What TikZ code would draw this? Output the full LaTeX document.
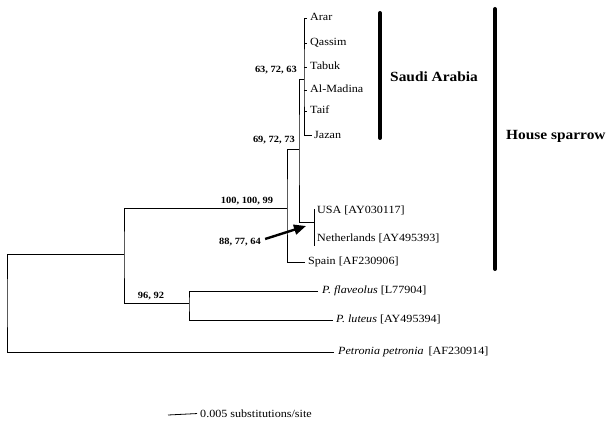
\documentclass[tikz,border=0pt]{standalone}
\usepackage{fontspec}
\setmainfont{Liberation Serif}[FakeStretch=1.1]
\usetikzlibrary{arrows.meta}
\begin{document}
\begin{tikzpicture}[x=1pt,y=-1pt,
  br/.style={line width=0.8pt},
  tip/.style={anchor=mid west, inner sep=0pt, font=\fontsize{11}{13}\selectfont},
  boot/.style={inner sep=0pt, font=\fontsize{9.5}{11}\selectfont\bfseries},
  bar/.style={line width=4pt, line cap=round},
  grp/.style={anchor=mid west, inner sep=0pt, font=\fontsize{14}{16}\selectfont\bfseries}]
\useasboundingbox (0,0) rectangle (607,422);
% internal nodes
\coordinate (R) at (7,303);
\coordinate (A) at (124,254);
\coordinate (F) at (189,303);
\coordinate (H) at (287,208);
\coordinate (S2) at (299,149);
\coordinate (S1) at (304,79);
\coordinate (U) at (314,222);
% tips
\coordinate (tArar) at (307,18);
\coordinate (tQas) at (307,43);
\coordinate (tTab) at (307,67);
\coordinate (tMad) at (307,90);
\coordinate (tTaif) at (307,111);
\coordinate (tJaz) at (312,135);
\coordinate (tUSA) at (314,209);
\coordinate (tNeth) at (314,246);
\coordinate (tSpain) at (305,262);
\coordinate (tFlav) at (318,291);
\coordinate (tLut) at (333,320);
\coordinate (tPet) at (334,352);
% labels
\node[tip] (lArar) at (310,18) {Arar};
\node[tip] (lQas) at (310,43) {Qassim};
\node[tip] (lTab) at (310,67) {Tabuk};
\node[tip] (lMad) at (310,90) {Al-Madina};
\node[tip] (lTaif) at (310,111) {Taif};
\node[tip] (lJaz) at (314,136) {Jazan};
\node[tip] (lUSA) at (317,211) {USA [AY030117]};
\node[tip] (lNeth) at (317,239) {Netherlands [AY495393]};
\node[tip] (lSpain) at (308,262) {Spain [AF230906]};
\node[tip] (lFlav) at (322,291) {\textit{P. flaveolus} [L77904]};
\node[tip] (lLut) at (336,320) {\textit{P. luteus} [AY495394]};
\node[tip] (lPet) at (338,352) {\textit{Petronia petronia}\ \,[AF230914]};
% branches
\draw[br] (tArar) -| (S1) |- (tJaz);
\foreach \t in {tQas,tTab,tMad,tTaif} \draw[br] (S1 |- \t) -- (\t);
\draw[br] (S1) -| (S2) |- (U);
\draw[br] (tUSA) -- (tNeth);
\draw[br] (S2) -| (H) |- (tSpain);
\draw[br] (H) -| (A) |- (F);
\draw[br] (tFlav) -| (F) |- (tLut);
\draw[br] (A) -| (R) |- (tPet);
% bootstrap values
\node[boot, anchor=east] (b1) at (297,70) {63, 72, 63};
\node[boot, anchor=east] (b2) at (295,140) {69, 72, 73};
\node[boot] (b3) at (247,201) {100, 100, 99};
\node[boot] (b5) at (151,296) {96, 92};
\node[boot] (b4) at (240,242) {88, 77, 64};
\coordinate (arrTip) at (306,226);
\draw[line width=2.4pt, -{Triangle[length=12pt,width=10pt]}] ([xshift=4pt,yshift=3pt]b4.east) -- (arrTip);
% group bars
\coordinate (saT) at (380,13);
\coordinate (saB) at (380,138);
\draw[bar] (saT) -- (saB);
\node[grp] (lSA) at (390,79) {Saudi Arabia};
\coordinate (hsT) at (495,9);
\coordinate (hsB) at (495,269);
\draw[bar] (hsT) -- (hsB);
\node[grp] (lHS) at (506,137) {House sparrow};
% scale bar
\coordinate (sc1) at (168,415);
\node[tip] (scl) at (200,415) {0.005 substitutions/site};
\draw[br] (sc1) -- ([xshift=-3pt]scl.west);
\end{tikzpicture}
\end{document}
